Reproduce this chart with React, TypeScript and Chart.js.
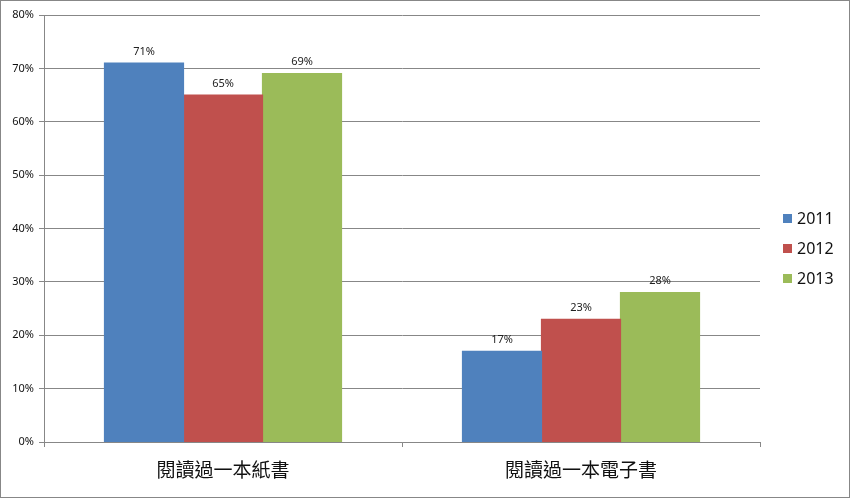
import React, { useRef, useEffect } from 'react';
import { Chart, registerables, Plugin } from 'chart.js';

Chart.register(...registerables);

const categories = ['閱讀過一本紙書', '閱讀過一本電子書'];
const years = ['2011', '2012', '2013'];
const values2011 = [71, 17];
const values2012 = [65, 23];
const values2013 = [69, 28];
const colors = ['#4F81BD', '#C0504D', '#9BBB59'];

const FONT = "'Noto Sans', 'Noto Sans CJK TC', sans-serif";
const GRID = '#878787';

// percent labels above every bar
const barLabels: Plugin<'bar'> = {
  id: 'barLabels',
  afterDatasetsDraw(chart) {
    const ctx = chart.ctx;
    ctx.save();
    ctx.font = `11px ${FONT}`;
    ctx.fillStyle = '#222';
    ctx.textAlign = 'center';
    ctx.textBaseline = 'bottom';
    chart.data.datasets.forEach((ds, i) => {
      chart.getDatasetMeta(i).data.forEach((bar, j) => {
        ctx.fillText(`${ds.data[j]}%`, bar.x, bar.y - 6);
      });
    });
    ctx.restore();
  },
};

// Excel-like legend on the right side
const sideLegend: Plugin<'bar'> = {
  id: 'sideLegend',
  afterDraw(chart) {
    const ctx = chart.ctx;
    ctx.save();
    ctx.font = `16px ${FONT}`;
    ctx.textBaseline = 'middle';
    ctx.textAlign = 'left';
    chart.data.datasets.forEach((ds, i) => {
      const y = 217 + i * 30;
      ctx.fillStyle = ds.backgroundColor as string;
      ctx.fillRect(782, y - 4, 9, 9);
      ctx.fillStyle = '#111';
      ctx.fillText(ds.label as string, 796, y + 1);
    });
    ctx.restore();
  },
};

const BarChart: React.FC = () => {
  const chartRef = useRef<HTMLCanvasElement | null>(null);
  const chartInstance = useRef<Chart | null>(null);

  useEffect(() => {
    document.body.style.margin = '0';
    if (!chartRef.current) return;
    if (chartInstance.current) chartInstance.current.destroy();

    const series = [values2011, values2012, values2013];
    chartInstance.current = new Chart(chartRef.current, {
      type: 'bar',
      data: {
        labels: categories,
        datasets: years.map((y, i) => ({
          label: y,
          data: series[i],
          backgroundColor: colors[i],
          borderWidth: 0,
          inflateAmount: 0.6,
          categoryPercentage: 0.662,
          barPercentage: 1,
        })),
      },
      options: {
        animation: false,
        responsive: true,
        maintainAspectRatio: false,
        layout: { padding: { top: 14, right: 89, left: 0, bottom: 0 } },
        plugins: {
          legend: { display: false },
          tooltip: { enabled: false },
        },
        scales: {
          x: {
            grid: {
              drawOnChartArea: false,
              drawTicks: true,
              tickLength: 5,
              color: GRID,
              offset: true,
            },
            border: { color: GRID },
            ticks: {
              font: { family: FONT, size: 19 },
              color: '#111',
              padding: 13,
            },
            afterFit: (s: any) => {
              s.height = 55;
            },
          },
          y: {
            min: 0,
            max: 80,
            ticks: {
              stepSize: 10,
              font: { family: FONT, size: 11 },
              color: '#111',
              padding: 5,
              callback: (v: any) => `${v}%`,
            },
            grid: { color: GRID, tickLength: 5 },
            border: { color: GRID },
            afterFit: (s: any) => {
              s.width = 43;
            },
          },
        },
      },
      plugins: [barLabels, sideLegend],
    });

    return () => {
      if (chartInstance.current) {
        chartInstance.current.destroy();
        chartInstance.current = null;
      }
    };
  }, []);

  return <canvas ref={chartRef} />;
};

export default function App() {
  return (
    <div
      style={{
        width: 850,
        height: 498,
        border: '1px solid #878787',
        boxSizing: 'border-box',
        position: 'relative',
        background: '#fff',
      }}
    >
      <BarChart />
    </div>
  );
}
